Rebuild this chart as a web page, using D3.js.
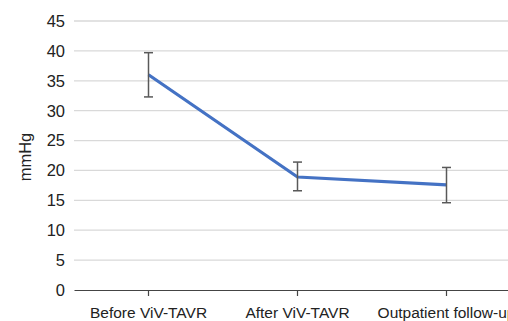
<!DOCTYPE html>
<html>
<head>
<meta charset="utf-8">
<script src="https://cdnjs.cloudflare.com/ajax/libs/d3/7.8.5/d3.min.js"></script>
<style>
  html, body { margin: 0; padding: 0; background: #fff; overflow: hidden; }
  #chart { width: 508px; height: 321px; }
  text { font-family: "Liberation Sans", Arial, sans-serif; fill: #222; }
</style>
</head>
<body>
<div id="chart"></div>
<script>
var categories = ["Before ViV-TAVR", "After ViV-TAVR", "Outpatient follow-up"];
var means = [36, 18.9, 17.6];
var upper = [39.7, 21.4, 20.5];
var lower = [32.3, 16.6, 14.6];
var yTicks = [0, 5, 10, 15, 20, 25, 30, 35, 40, 45];

var W = 508, H = 321;
var plotLeft = 74, plotTop = 21, plotBottom = 290, bandW = 149;

var svg = d3.select("#chart").append("svg")
    .attr("width", W)
    .attr("height", H);

var x = d3.scaleBand()
    .domain(categories)
    .range([plotLeft, plotLeft + bandW * categories.length]);

var y = d3.scaleLinear()
    .domain([0, 45])
    .range([plotBottom, plotTop]);

// gridlines
svg.append("g").selectAll("line")
    .data(yTicks.filter(function(d){ return d > 0; }))
    .enter().append("line")
    .attr("x1", plotLeft).attr("x2", plotLeft + bandW * categories.length)
    .attr("y1", function(d){ return y(d); })
    .attr("y2", function(d){ return y(d); })
    .style("stroke", "#d9d9d9")
    .style("stroke-width", 1.3);

// y tick labels
svg.append("g").selectAll("text")
    .data(yTicks)
    .enter().append("text")
    .attr("x", 65)
    .attr("y", function(d){ return y(d); })
    .attr("dy", "0.36em")
    .attr("text-anchor", "end")
    .style("font-size", "16.5px")
    .text(function(d){ return d; });

// x axis
var xAxis = d3.axisBottom(x).tickSize(6).tickSizeOuter(0);
var gx = svg.append("g")
    .attr("transform", "translate(0," + plotBottom + ")")
    .call(xAxis);
gx.select(".domain").style("stroke", "#444").style("stroke-width", 1.2);
gx.selectAll(".tick line").style("stroke", "#444").style("stroke-width", 1.2);
gx.selectAll(".tick text")
    .attr("y", 17)
    .style("font-size", "15.5px")
    .style("font-family", "Liberation Sans, Arial, sans-serif")
    .style("fill", "#222");

// y axis title
svg.append("text")
    .attr("transform", "translate(25,157) rotate(-90)")
    .attr("text-anchor", "middle")
    .attr("dy", "0.35em")
    .style("font-size", "16.5px")
    .text("mmHg");

var cx = function(d){ return x(d) + x.bandwidth() / 2; };

// line
var pts = categories.map(function(c, i){ return [cx(c), y(means[i])]; });
svg.append("path")
    .attr("d", d3.line()(pts))
    .style("fill", "none")
    .style("stroke", "#4472c4")
    .style("stroke-width", 3.2)
    .style("stroke-linejoin", "round");

// error bars
var eb = svg.append("g").selectAll("g")
    .data(categories)
    .enter().append("g");
eb.append("line")
    .attr("x1", cx).attr("x2", cx)
    .attr("y1", function(d, i){ return y(upper[i]); })
    .attr("y2", function(d, i){ return y(lower[i]); })
    .style("stroke", "#595959").style("stroke-width", 1.5);
[upper, lower].forEach(function(arr){
  eb.append("line")
    .attr("x1", function(d){ return cx(d) - 4.5; })
    .attr("x2", function(d){ return cx(d) + 4.5; })
    .attr("y1", function(d, i){ return y(arr[i]); })
    .attr("y2", function(d, i){ return y(arr[i]); })
    .style("stroke", "#595959").style("stroke-width", 1.5);
});
</script>
</body>
</html>
